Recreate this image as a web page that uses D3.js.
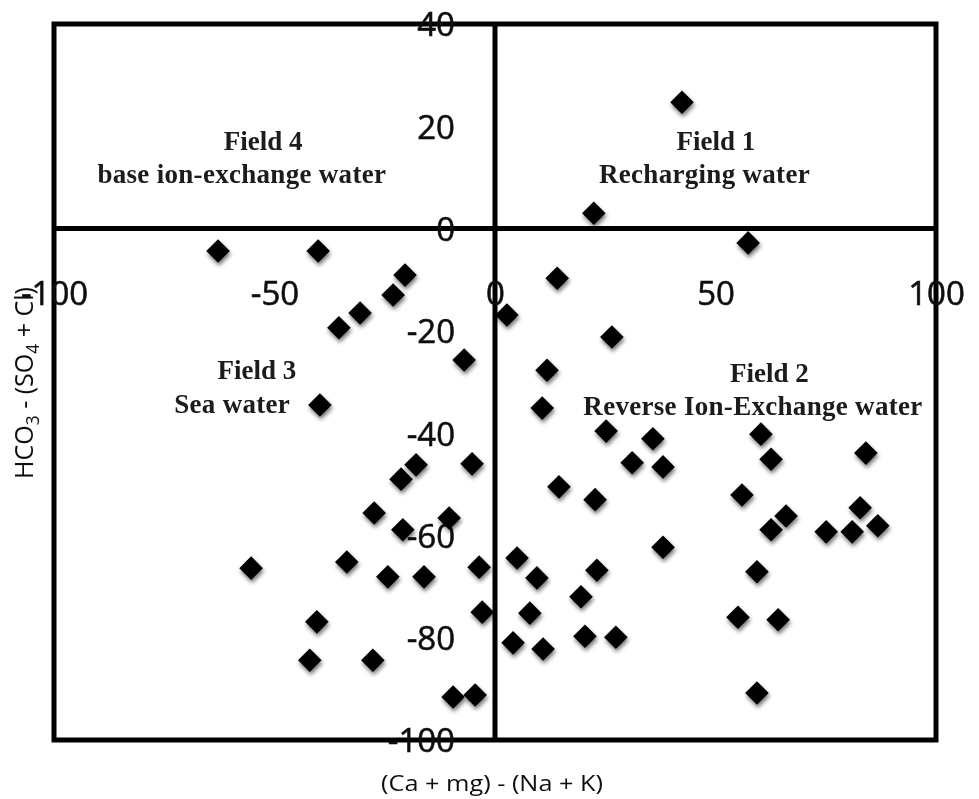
<!DOCTYPE html>
<html>
<head>
<meta charset="utf-8">
<script src="https://cdn.jsdelivr.net/npm/d3@7"></script>
<style>
  html, body { margin: 0; padding: 0; background: #fff; }
  svg { display: block; }
</style>
</head>
<body>
<svg id="chart" width="979" height="799"></svg>
<script>
// Chadha-type diagram: (Ca + Mg) - (Na + K) against HCO3 - (SO4 + Cl), meq %
const sampleX = [
  -62.8, -40.1, -20.4, -23.1, -30.6, -35.4, -7.0, -39.7, -17.9, -5.2,
  -21.3, -27.4, -20.9, -10.4, -55.3, -33.6, -24.3, -16.1, -3.6, -2.9,
  -40.4, -42.0, -27.7, -9.5, -4.5,
  42.4, 22.4, 57.4, 14.1, 2.7, 26.5, 11.8, 10.7, 25.2, 35.8,
  31.1, 38.1, 14.5, 22.7, 38.1, 5.0, 9.5, 23.1, 19.5, 7.9,
  4.1, 10.9, 20.4, 27.4, 60.3, 62.6, 84.1, 56.0, 66.0, 62.6,
  75.1, 81.0, 82.8, 86.8, 59.4, 55.1, 64.2, 59.4
];
const sampleY = [
  -4.4, -4.4, -9.1, -13.0, -16.5, -19.4, -25.7, -34.5, -46.2, -46.0,
  -49.0, -55.6, -58.9, -56.6, -66.4, -65.2, -68.1, -68.1, -66.2, -75.0,
  -76.9, -84.4, -84.4, -91.6, -91.2,
  24.7, 3.0, -2.8, -9.7, -16.9, -21.2, -27.7, -35.1, -39.6, -41.1,
  -45.8, -46.6, -50.5, -53.0, -62.3, -64.4, -68.3, -66.8, -72.0, -75.2,
  -81.0, -82.2, -79.7, -79.9, -40.2, -45.1, -43.9, -52.1, -56.2, -58.9,
  -59.3, -59.3, -54.6, -58.1, -67.1, -76.0, -76.5, -90.8
];

const xTicks = [-100, -50, 0, 50, 100];
const yTicks = [40, 20, 0, -20, -40, -60, -80, -100];

const fieldTitles = ["Field 1", "Field 2", "Field 3", "Field 4"];
const fieldNames = ["Recharging water", "Reverse Ion-Exchange water", "Sea water", "base ion-exchange water"];
// caption baselines (data units) for each field's title and name
const fieldTitleX = [50.1, 62.2, -54.0, -52.6];
const fieldTitleY = [15.4, -30.0, -29.4, 15.4];
const fieldNameX = [47.5, 58.5, -59.6, -57.4];
const fieldNameY = [8.9, -36.5, -36.0, 8.9];

const xTitle = "(Ca + mg) - (Na + K)";

const svg = d3.select("#chart");
const x = d3.scaleLinear().domain([-100, 100]).range([54, 936]);
const y = d3.scaleLinear().domain([-100, 40]).range([740, 24]);

const defs = svg.append("defs");
const f = defs.append("filter").attr("id", "soft")
  .attr("x", "-60%").attr("y", "-60%").attr("width", "220%").attr("height", "220%");
f.append("feGaussianBlur").attr("in", "SourceAlpha").attr("stdDeviation", 2.2).attr("result", "b");
f.append("feOffset").attr("in", "b").attr("dx", 0.5).attr("dy", 3).attr("result", "o");
f.append("feComponentTransfer").attr("in", "o").attr("result", "s")
  .append("feFuncA").attr("type", "linear").attr("slope", 0.55);
f.append("feGaussianBlur").attr("in", "SourceGraphic").attr("stdDeviation", 0.7).attr("result", "g");
const m = f.append("feMerge");
m.append("feMergeNode").attr("in", "s");
m.append("feMergeNode").attr("in", "g");

const textBlur = defs.append("filter").attr("id", "tsoft");
textBlur.append("feGaussianBlur").attr("stdDeviation", 0.35);

// frame and the two dividing axes
const frame = svg.append("g").attr("stroke", "#000").attr("stroke-width", 5).attr("fill", "none");
frame.append("rect")
  .attr("x", x(-100)).attr("y", y(40))
  .attr("width", x(100) - x(-100)).attr("height", y(-100) - y(40));
frame.append("line").attr("x1", x(0)).attr("x2", x(0)).attr("y1", y(40)).attr("y2", y(-100));
frame.append("line").attr("x1", x(-100)).attr("x2", x(100)).attr("y1", y(0)).attr("y2", y(0));

// tick labels
const tickFont = "'Open Sans', sans-serif";
const fmt = d => String(d);
const xAxis = svg.append("g")
  .attr("transform", `translate(0,${y(0)})`)
  .call(d3.axisBottom(x).tickValues(xTicks).tickSize(0).tickFormat(fmt));
xAxis.select(".domain").remove();
xAxis.selectAll("text")
  .attr("y", 76).attr("dy", 0);

const yAxis = svg.append("g")
  .attr("transform", `translate(${x(0)},0)`)
  .call(d3.axisLeft(y).tickValues(yTicks).tickSize(0).tickFormat(fmt));
yAxis.select(".domain").remove();
yAxis.selectAll("text")
  .attr("x", -40).attr("dy", "0.36em");

svg.selectAll(".tick text")
  .style("font-family", tickFont).style("font-size", "33px")
  .attr("fill", "#111").attr("stroke", "#111").attr("stroke-width", 0.6)
  .attr("filter", "url(#tsoft)");

// field captions
const fieldFont = "'Liberation Serif', 'Times New Roman', serif";
const captions = svg.append("g")
  .attr("font-family", fieldFont).attr("font-weight", "bold").attr("font-size", 27)
  .attr("fill", "#1a1a1a").attr("text-anchor", "middle").attr("filter", "url(#tsoft)");
captions.selectAll("text.title").data(fieldTitles).join("text")
  .attr("class", "title")
  .attr("x", (d, i) => x(fieldTitleX[i])).attr("y", (d, i) => y(fieldTitleY[i]))
  .text(d => d);
captions.selectAll("text.name").data(fieldNames).join("text")
  .attr("class", "name")
  .attr("x", (d, i) => x(fieldNameX[i])).attr("y", (d, i) => y(fieldNameY[i]))
  .attr("letter-spacing", 0.3)
  .text(d => d);

// samples
const diamond = {
  draw(ctx, size) {
    const r = Math.sqrt(size / 2);
    ctx.moveTo(0, -r); ctx.lineTo(r, 0); ctx.lineTo(0, r); ctx.lineTo(-r, 0); ctx.closePath();
  }
};
svg.append("g").attr("filter", "url(#soft)")
  .selectAll("path").data(sampleX.map((v, i) => [v, sampleY[i]])).join("path")
  .attr("transform", d => `translate(${x(d[0])},${y(d[1])})`)
  .attr("d", d3.symbol(diamond, 2 * 11.8 * 11.8)())
  .attr("fill", "#000");

// axis titles
const titleFont = "'Open Sans', sans-serif";
svg.append("text")
  .attr("x", (x(-100) + x(100)) / 2 - 3).attr("y", 791)
  .attr("text-anchor", "middle")
  .attr("font-family", titleFont).attr("font-size", 21).attr("fill", "#111")
  .attr("textLength", 222).attr("lengthAdjust", "spacingAndGlyphs")
  .attr("filter", "url(#tsoft)")
  .text(xTitle);

const yt = svg.append("text")
  .attr("transform", "translate(33,383) rotate(-90)")
  .attr("text-anchor", "middle")
  .attr("font-family", titleFont).attr("font-size", 26).attr("fill", "#111")
  .attr("textLength", 192).attr("lengthAdjust", "spacingAndGlyphs")
  .attr("filter", "url(#tsoft)");
yt.append("tspan").text("HCO");
yt.append("tspan").attr("dy", 6).attr("font-size", 18).text("3");
yt.append("tspan").attr("dy", -6).text(" - (SO");
yt.append("tspan").attr("dy", 6).attr("font-size", 18).text("4");
yt.append("tspan").attr("dy", -6).text(" + Cl)");
</script>
</body>
</html>
